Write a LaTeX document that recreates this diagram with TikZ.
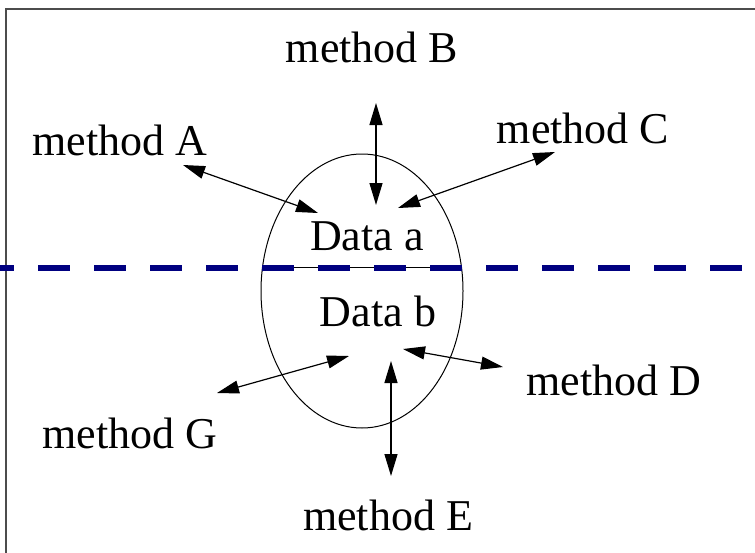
\documentclass[tikz,border=0pt]{standalone}
\usepackage{fontspec}
\setmainfont{Liberation Serif}
\definecolor{dashnavy}{RGB}{0,0,128}
\usetikzlibrary{arrows.meta,shapes.geometric}

\begin{document}
\begin{tikzpicture}[x=0.5pt,y=-0.5pt,
  lbl/.style={inner sep=0pt, font=\fontsize{22}{26}\selectfont},
  link/.style={{Triangle[length=11pt,width=6.5pt]}-{Triangle[length=11pt,width=6.5pt]}, line width=0.6pt}]
  \useasboundingbox (0,0) rectangle (755,552);
  % frame, only its top and left sides fall inside the picture
  \draw[line width=1pt, black!70] (6,600) -- (6,9) -- (800,9);

  \node[draw, ellipse, line width=0.5pt, minimum width=101pt, minimum height=137pt] (store) at (362,291) {};
  \draw[line width=0.5pt] (store.167) -- (store.13);
  \draw[dashnavy, line width=3pt, dash pattern=on 16pt off 12pt, dash phase=9pt] (0,268) -- (755,268);

  \node[lbl] (dataa) at (367,236) {Data a};
  \node[lbl] (datab) at (378,311) {Data b};

  \node[lbl] (mA) at (120,140) {method A};
  \node[lbl] (mB) at (372,47) {method B};
  \node[lbl] (mC) at (583,128) {method C};
  \node[lbl] (mD) at (614,380) {method D};
  \node[lbl] (mE) at (388,515) {method E};
  \node[lbl] (mG) at (130,433) {method G};

  % arrow ends
  \coordinate (a1) at (183,165); \coordinate (a2) at (318,213);
  \coordinate (b1) at (376,103); \coordinate (b2) at (376,205);
  \coordinate (c1) at (555,152); \coordinate (c2) at (398,208);
  \coordinate (d1) at (503,367); \coordinate (d2) at (403,349);
  \coordinate (e1) at (391,476); \coordinate (e2) at (391,361);
  \coordinate (g1) at (217,393); \coordinate (g2) at (349,356);

  \draw[link] (a1) -- (a2);
  \draw[link] (b1) -- (b2);
  \draw[link] (c1) -- (c2);
  \draw[link] (d1) -- (d2);
  \draw[link] (e1) -- (e2);
  \draw[link] (g1) -- (g2);
\end{tikzpicture}
\end{document}
